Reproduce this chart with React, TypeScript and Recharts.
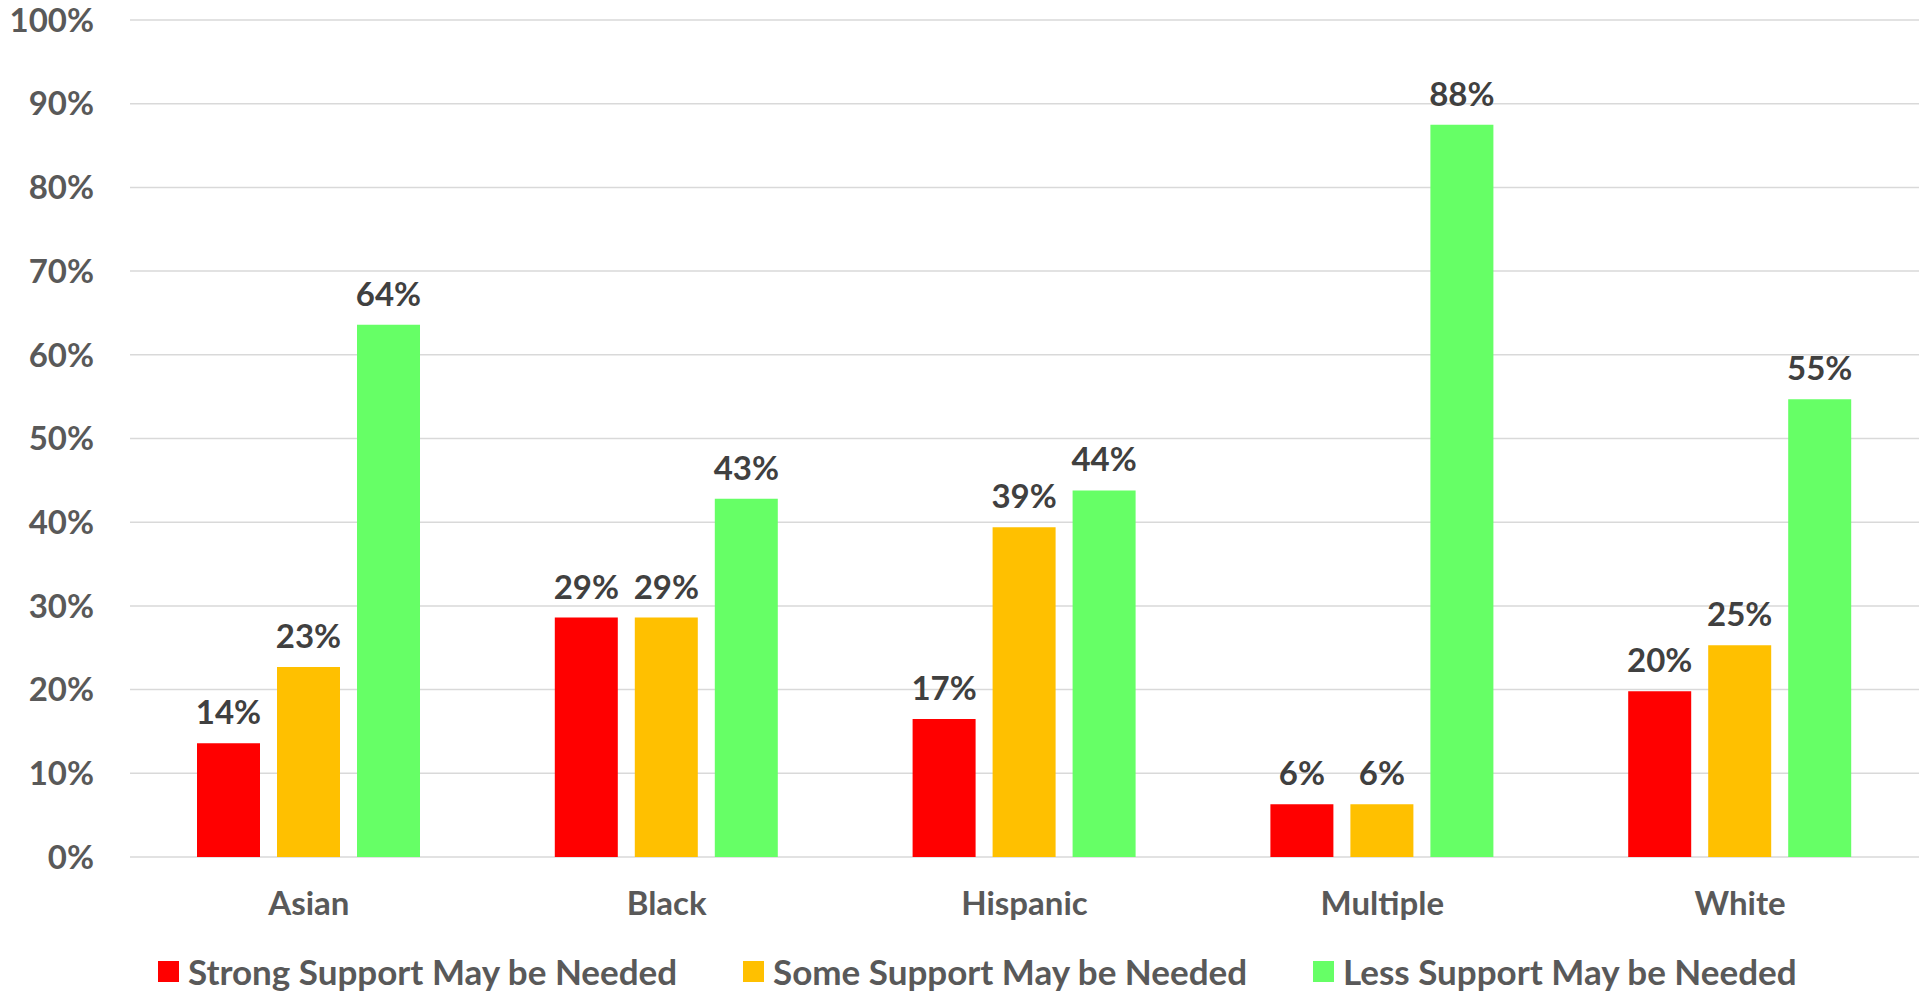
import React from "react";
import { BarChart, Bar, XAxis, YAxis, CartesianGrid, Legend, LabelList } from "recharts";

const groups = ["Asian", "Black", "Hispanic", "Multiple", "White"];
const strongSupport = [13.6, 28.6, 16.5, 6.3, 19.8];
const someSupport = [22.7, 28.6, 39.4, 6.3, 25.3];
const lessSupport = [63.6, 42.8, 43.8, 87.5, 54.7];
const yTicks = [0, 10, 20, 30, 40, 50, 60, 70, 80, 90, 100];

const series = [
  { key: "strong", name: "Strong Support May be Needed", color: "#FF0000" },
  { key: "some", name: "Some Support May be Needed", color: "#FFC000" },
  { key: "less", name: "Less Support May be Needed", color: "#66FF66" },
];

const chartData = groups.map((g, i) => ({
  group: g,
  strong: strongSupport[i],
  some: someSupport[i],
  less: lessSupport[i],
}));

const FONT = "Lato, 'Open Sans', sans-serif";
const axisTick = { fill: "#595959", fontSize: 33, fontWeight: 700, fontFamily: FONT };

// legend items sit at fixed slots, like the Excel original
const legendSlots = [585, 570, 600];

// payload order from recharts is not the series order, so go by the series list
const renderLegend = () => (
  <div
    style={{
      height: 52,
      boxSizing: "border-box",
      paddingTop: 12,
      paddingLeft: 158,
      display: "flex",
      alignItems: "flex-start",
      fontFamily: FONT,
      fontWeight: 700,
      fontSize: 35,
      color: "#595959",
    }}
  >
    {series.map((s, i) => (
      <div key={`leg-${i}`} style={{ width: legendSlots[i], display: "flex", alignItems: "center", height: 40 }}>
        <span style={{ width: 21, height: 21, background: s.color, marginRight: 9, display: "inline-block", flexShrink: 0 }} />
        <span style={{ lineHeight: "40px", whiteSpace: "nowrap" }}>{s.name}</span>
      </div>
    ))}
  </div>
);

export default function App() {
  return (
    <div style={{ position: "absolute", left: 0, top: 0, width: 1926, height: 991, overflow: "hidden", background: "#fff" }}>
      <BarChart
        width={1926}
        height={991}
        data={chartData}
        margin={{ top: 20, right: 7, left: 0, bottom: 0 }}
        barSize={63}
        barGap={17}
        style={{ fontFamily: FONT }}
      >
        <CartesianGrid vertical={false} stroke="#D9D9D9" strokeWidth={1.5} />
        <XAxis
          dataKey="group"
          height={82}
          axisLine={false}
          tickLine={false}
          tickSize={0}
          tickMargin={35}
          tick={axisTick}
          interval={0}
        />
        <YAxis
          width={130}
          domain={[0, 100]}
          ticks={yTicks}
          axisLine={false}
          tickLine={false}
          tickSize={0}
          tickMargin={36}
          tick={axisTick}
          tickFormatter={(v: number) => `${v}%`}
        />
        <Legend
          content={renderLegend}
          verticalAlign="bottom"
          wrapperStyle={{ left: 0, width: 1926, bottom: 0 }}
        />
        {series.map((s) => (
          <Bar key={s.key} dataKey={s.key} name={s.name} fill={s.color} isAnimationActive={false}>
            <LabelList
              dataKey={s.key}
              position="top"
              offset={19}
              formatter={(v: any) => `${Math.round(Number(v))}%`}
              style={{ fill: "#404040", fontSize: 33, fontWeight: 700, fontFamily: FONT }}
            />
          </Bar>
        ))}
      </BarChart>
    </div>
  );
}
